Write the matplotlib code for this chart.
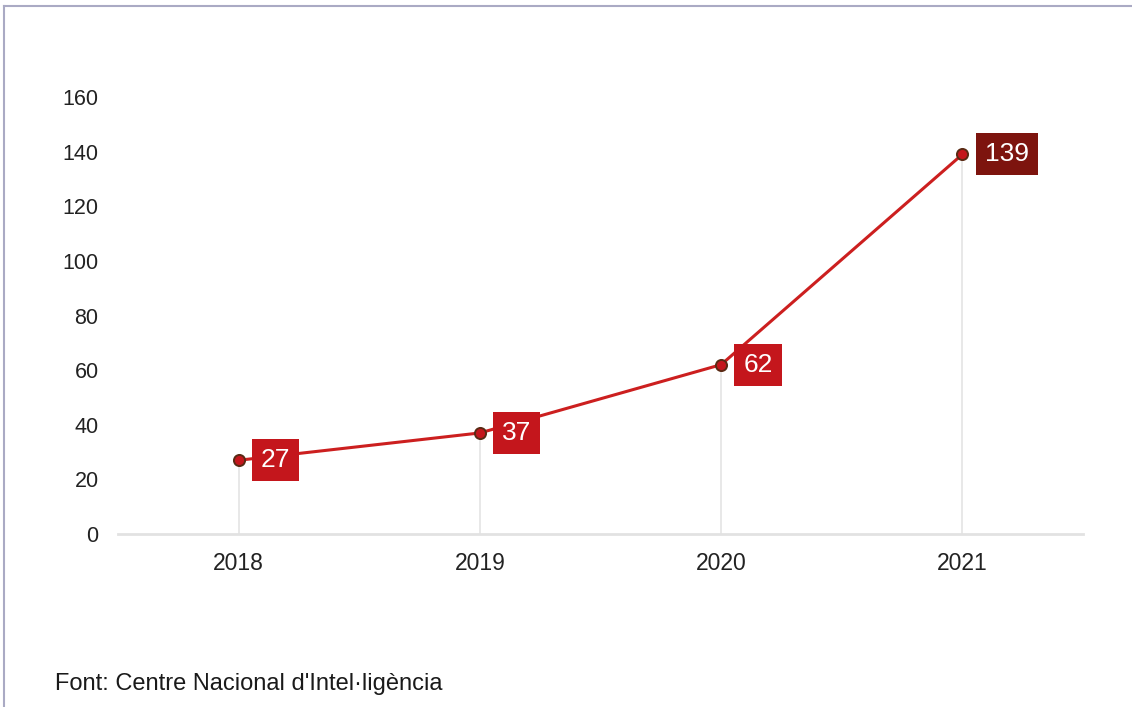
import matplotlib.pyplot as plt
from matplotlib.lines import Line2D

plt.rcParams['font.family'] = ['Liberation Sans', 'DejaVu Sans']

# Dades
anys = ['2018', '2019', '2020', '2021']
valors = [27, 37, 62, 139]
colors_etiqueta = ['#c4161c', '#c4161c', '#c4161c', '#7d140e']
font_text = "Font: Centre Nacional d'Intel·ligència"

fig = plt.figure(figsize=(11.32, 7.07), dpi=100)
ax = fig.add_axes([118 / 1132, 1 - 534 / 707, (1083 - 118) / 1132, (534 - 97) / 707])

x = range(len(anys))

# linies verticals fins a cada punt
ax.vlines(x, 0, valors, color='#e4e4e4', lw=1.2, zorder=1)

ax.plot(x, valors, color='#cc1f1f', lw=2.2, marker='o', markersize=8,
        markerfacecolor='#c4161c', markeredgecolor='#5a2a14', markeredgewidth=1.4, zorder=3)

for xi, v, c in zip(x, valors, colors_etiqueta):
    ax.annotate(str(v), (xi, v), xytext=(16, 0), textcoords='offset points',
                ha='left', va='center', fontsize=19, color='white', zorder=4,
                bbox=dict(boxstyle='square,pad=0.34', fc=c, ec='none'))

ax.set_xlim(-0.5, 3.5)
ax.set_ylim(0, 160)
ax.set_yticks(range(0, 161, 20))
ax.set_xticks(list(x))
ax.set_xticklabels(anys)
ax.tick_params(axis='both', length=0, colors='#222222')
ax.tick_params(axis='x', pad=13, labelsize=16.5)
ax.tick_params(axis='y', pad=14, labelsize=15.5)

for s in ['top', 'right', 'left']:
    ax.spines[s].set_visible(False)
ax.spines['bottom'].set_color('#e2e2e2')
ax.spines['bottom'].set_linewidth(2)

fig.text(55 / 1132, 1 - 690 / 707, font_text, fontsize=17, color='#1a1a1a',
         ha='left', va='baseline')

# marc de la figura
fig.add_artist(Line2D([4 / 1132, 1], [1 - 6 / 707, 1 - 6 / 707], color='#aaaac4', lw=1.5))
fig.add_artist(Line2D([4 / 1132, 4 / 1132], [0, 1 - 6 / 707], color='#aaaac4', lw=1.5))

fig.savefig('out.png', dpi=100)
